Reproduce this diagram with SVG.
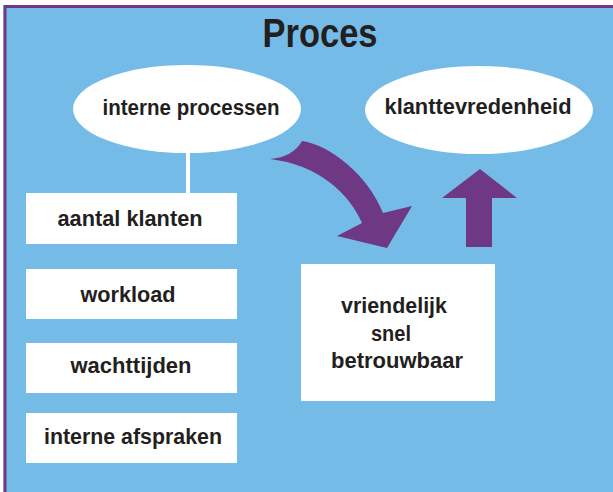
<svg xmlns="http://www.w3.org/2000/svg" width="613" height="492" viewBox="0 0 613 492">
<style>
.bg{fill:#74bce7}
.frame{stroke:#6e3a86;stroke-width:3;fill:none}
.node{fill:#ffffff}
.lbl{font-family:"Liberation Sans",Arial,sans-serif;font-weight:bold;font-size:22px;fill:#231f20;text-anchor:middle}
.title{font-family:"Liberation Sans",Arial,sans-serif;font-weight:bold;font-size:40px;fill:#231f20;text-anchor:middle}
.arrow{fill:#6e3884}
</style>
<rect class="bg" x="0" y="0" width="613" height="492"/>
<rect x="0" y="0" width="613" height="5" fill="#ffffff"/>
<rect x="0" y="0" width="3.5" height="492" fill="#ffffff"/>
<path class="frame" d="M5,492 V6.5 H613"/>
<text class="title" x="320" y="47" textLength="115" lengthAdjust="spacingAndGlyphs">Proces</text>

<g id="connectors">
  <line x1="188" y1="150" x2="188" y2="194" stroke="#ffffff" stroke-width="4"/>
  <path class="arrow" d="M270,159 Q293,157 302,141 C330,145 368,175 383,213 L412,206 L387,248 L337,236 L362,223 C350,195 320,165 270,159 Z"/>
  <path class="arrow" d="M480,169 L517,198 L492,198 L492,247 L466,247 L466,198 L442,198 Z"/>
</g>

<g id="interne-processen">
  <ellipse class="node" cx="187" cy="109" rx="114" ry="44"/>
  <text class="lbl" x="191" y="115" textLength="177" lengthAdjust="spacingAndGlyphs">interne processen</text>
</g>
<g id="klanttevredenheid">
  <ellipse class="node" cx="479" cy="110" rx="114" ry="44"/>
  <text class="lbl" x="478" y="114" textLength="187" lengthAdjust="spacingAndGlyphs">klanttevredenheid</text>
</g>
<g id="aantal-klanten">
  <rect class="node" x="26" y="193" width="211" height="51"/>
  <text class="lbl" x="130" y="226" textLength="145" lengthAdjust="spacingAndGlyphs">aantal klanten</text>
</g>
<g id="workload">
  <rect class="node" x="26" y="269" width="211" height="50"/>
  <text class="lbl" x="128" y="302" textLength="95" lengthAdjust="spacingAndGlyphs">workload</text>
</g>
<g id="wachttijden">
  <rect class="node" x="26" y="343" width="211" height="50"/>
  <text class="lbl" x="131" y="373" textLength="121" lengthAdjust="spacingAndGlyphs">wachttijden</text>
</g>
<g id="interne-afspraken">
  <rect class="node" x="26" y="413" width="211" height="50"/>
  <text class="lbl" x="133" y="444" textLength="178" lengthAdjust="spacingAndGlyphs">interne afspraken</text>
</g>
<g id="kwaliteit">
  <rect class="node" x="301" y="264" width="194" height="137"/>
  <text class="lbl" x="394" y="313" textLength="106" lengthAdjust="spacingAndGlyphs">vriendelijk</text>
  <text class="lbl" x="391" y="341" textLength="40" lengthAdjust="spacingAndGlyphs">snel</text>
  <text class="lbl" x="397" y="368" textLength="132" lengthAdjust="spacingAndGlyphs">betrouwbaar</text>
</g>
</svg>
